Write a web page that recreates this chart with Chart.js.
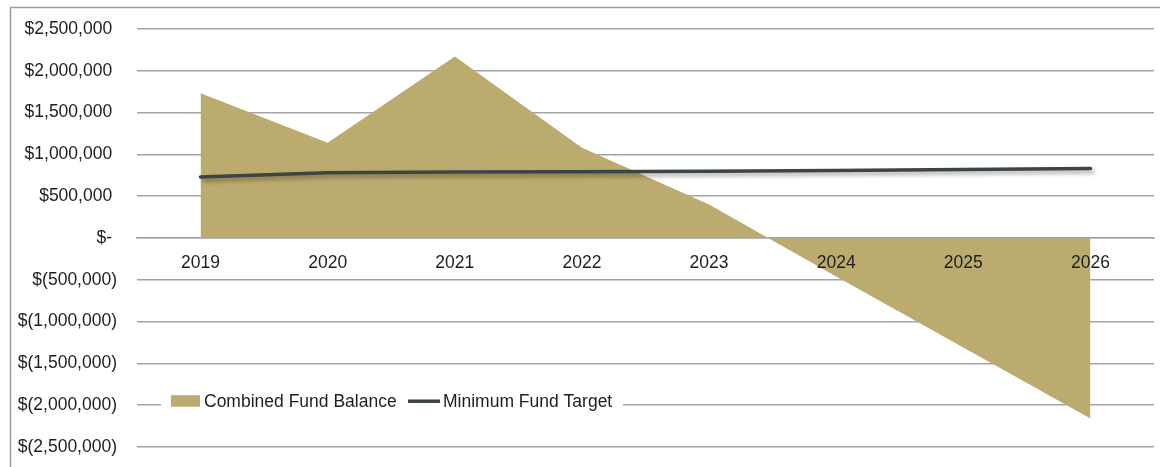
<!DOCTYPE html>
<html>
<head>
<meta charset="utf-8">
<title>Fund Balance</title>
<script src="https://cdn.jsdelivr.net/npm/chart.js@4"></script>
<style>
  html, body { margin: 0; padding: 0; background: #fff; }
  #wrap { width: 1160px; height: 467px; }
</style>
</head>
<body>
<div id="wrap"><canvas id="fundChart" width="1160" height="467"></canvas></div>
<script>
// anos do plano
const years = ['2019', '2020', '2021', '2022', '2023', '2024', '2025', '2026'];

// saldo combinado dos fundos (area)
const combinedFundBalance = [1730000, 1140000, 2170000, 1080000, 400000, -460000, -1310000, -2160000];

// meta minima (linha)
const minimumFundTarget = [730000, 780000, 790000, 792000, 797000, 808000, 818000, 830000];

// limites do eixo y
const yMin = -2500000;
const yMax = 2500000;
const yStep = 500000;

const areaColor = '#bcab6e';
const lineColor = '#3b4543';
const gridColor = '#a3a3a3';
const textColor = '#1e1e1e';
const fontFamily = '"Liberation Sans", Arial, sans-serif';

// formato contabil: negativos entre parenteses, zero como "$-"
function money(v) {
  if (v === 0) return '$- ';
  const s = Math.abs(v).toLocaleString('en-US');
  return v < 0 ? '$(' + s + ')' : '$' + s + ' ';
}

// sombra suave sob a area e a linha
const shadowPlugin = {
  id: 'shadow',
  beforeDatasetDraw(chart) {
    const ctx = chart.ctx;
    ctx.save();
    ctx.shadowColor = 'rgba(0,0,0,0.35)';
    ctx.shadowBlur = 4;
    ctx.shadowOffsetX = 3;
    ctx.shadowOffsetY = 3;
  },
  afterDatasetDraw(chart) {
    chart.ctx.restore();
  }
};

// moldura externa e legenda dentro da area do grafico
const frameLegendPlugin = {
  id: 'frameLegend',
  afterDraw(chart) {
    const ctx = chart.ctx;
    ctx.save();
    ctx.strokeStyle = '#9a9a9a';
    ctx.lineWidth = 1.5;
    ctx.strokeRect(10.5, 7.5, 1170, 480);

    const y = chart.scales.y.getPixelForValue(-2000000);
    ctx.fillStyle = '#fff';
    ctx.fillRect(161, y - 12, 462, 24);

    ctx.font = '17.5px ' + fontFamily;
    ctx.textBaseline = 'middle';
    ctx.fillStyle = textColor;

    const ds = chart.data.datasets;
    // caixa da area
    ctx.fillStyle = ds[0].backgroundColor;
    ctx.fillRect(171, y - 10, 29, 11.5);
    ctx.fillStyle = textColor;
    ctx.fillText(ds[0].label, 204, y - 3);
    // traco da linha
    ctx.strokeStyle = ds[1].borderColor;
    ctx.lineWidth = 3.5;
    ctx.beginPath();
    ctx.moveTo(408, y - 4);
    ctx.lineTo(440, y - 4);
    ctx.stroke();
    ctx.fillText(ds[1].label, 443, y - 3);
    ctx.restore();
  }
};

const ctx = document.getElementById('fundChart');

new Chart(ctx, {
  type: 'line',
  data: {
    labels: years,
    datasets: [
      {
        label: 'Combined Fund Balance',
        data: combinedFundBalance,
        backgroundColor: areaColor,
        borderColor: areaColor,
        borderWidth: 0,
        fill: 'origin',
        pointRadius: 0,
        tension: 0,
        order: 2
      },
      {
        label: 'Minimum Fund Target',
        data: minimumFundTarget,
        borderColor: lineColor,
        backgroundColor: lineColor,
        borderWidth: 3.5,
        borderCapStyle: 'round',
        fill: false,
        pointRadius: 0,
        tension: 0,
        order: 1
      }
    ]
  },
  options: {
    responsive: false,
    animation: false,
    layout: { padding: { top: 29, bottom: 20, left: 0, right: 6 } },
    plugins: {
      legend: { display: false },
      tooltip: { enabled: false }
    },
    scales: {
      x: {
        position: { y: 0 },
        offset: true,
        afterFit(scale) { scale.paddingTop = 0; scale.paddingBottom = 0; },
        grid: { display: false, drawTicks: false },
        border: { display: true, color: gridColor, width: 1.5, z: 1 },
        ticks: {
          z: 1,
          color: textColor,
          padding: 15,
          maxRotation: 0,
          font: { family: fontFamily, size: 17.5 }
        }
      },
      y: {
        min: yMin,
        max: yMax,
        afterFit(scale) {
          scale.width = 137;
          scale.paddingTop = 0;
          scale.paddingBottom = 0;
        },
        grid: { color: gridColor, lineWidth: 1.5, drawTicks: false },
        border: { display: false },
        ticks: {
          stepSize: yStep,
          padding: 20,
          color: textColor,
          font: { family: fontFamily, size: 17.5 },
          callback: (v) => money(v)
        }
      }
    }
  },
  plugins: [shadowPlugin, frameLegendPlugin]
});
</script>
</body>
</html>
